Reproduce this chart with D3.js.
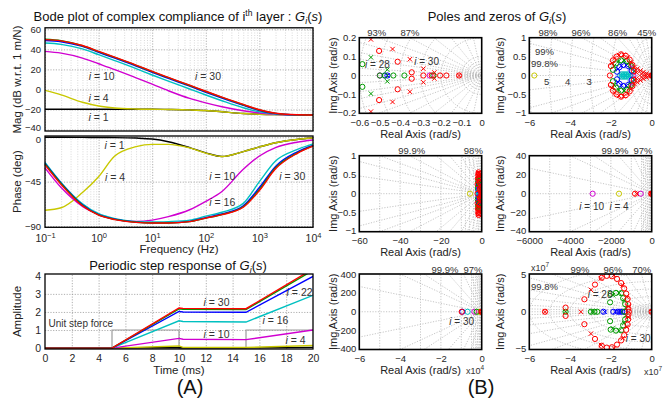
<!DOCTYPE html>
<html>
<head>
<meta charset="utf-8">
<script src="https://cdn.jsdelivr.net/npm/d3@7/dist/d3.min.js"></script>
<style>
  body { margin: 0; background: #fff; }
  svg { font-family: "Liberation Sans", Arial, Helvetica, sans-serif; }
  .tick text { fill: #262626; }
</style>
</head>
<body>
<div id="chart"></div>
<script>
// ---- layers ----
const layerIds = [1, 4, 10, 16, 22, 28, 30];
const layerColors = ["#000000", "#c8c800", "#d000d0", "#00c0c0", "#0000ff", "#009a00", "#ff0000"];

// ---- Bode (magnitude dB / phase deg) ----
const freqHz = [0.1, 0.2, 0.5, 1, 2, 5, 10, 20, 50, 100, 200, 500, 1000, 2000, 5000, 10000];
const mag1  = [-19.8, -19.8, -19.8, -19.8, -19.8, -19.8, -19.8, -20.0, -20.4, -21.0, -22.3, -24.0, -24.8, -25.2, -25.4, -25.5];
const mag4  = [-1.0, -5.5, -12.8, -16.5, -18.5, -19.5, -19.8, -20.0, -20.4, -21.0, -22.3, -24.0, -24.8, -25.2, -25.4, -25.5];
const mag10 = [38.0, 36.2, 31.3, 25.6, 19.8, 11.5, 5.2, -1.3, -9.0, -13.5, -17.3, -21.3, -23.5, -24.8, -25.4, -25.5];
const mag16 = [46.3, 45.0, 40.5, 34.7, 28.8, 20.8, 14.4, 8.3, 0.4, -5.6, -11.3, -18.3, -22.4, -24.6, -25.4, -25.5];
const mag22 = [48.8, 47.6, 42.9, 37.0, 31.2, 23.3, 17.0, 11.0, 3.2, -2.8, -8.6, -15.9, -21.0, -24.1, -25.4, -25.5];
const mag28 = [50.0, 48.6, 43.6, 37.7, 31.9, 24.0, 17.7, 11.7, 3.9, -2.1, -7.9, -15.3, -20.5, -23.9, -25.3, -25.5];
const mag30 = [49.7, 48.5, 43.8, 38.0, 32.2, 24.3, 18.0, 12.0, 4.2, -1.8, -7.6, -15.0, -20.3, -23.8, -25.3, -25.5];

const phase1  = [0, 0, -0.1, -0.2, -0.3, -0.8, -1.8, -4.5, -10.5, -15.8, -19.5, -14.5, -9.8, -5.5, -2.2, -0.8];
const phase4  = [-74, -71.5, -56, -40, -19, -9.5, -7.2, -7.2, -10.8, -16, -19.5, -14.5, -9.8, -5.5, -2.2, -0.8];
const phase10 = [-31, -51, -70, -78, -83, -85.3, -84, -80.5, -73.5, -65, -55, -32.5, -19, -10.5, -5, -2.7];
const phase16 = [-25.5, -46, -67.5, -77.5, -82.5, -85.5, -86, -85.5, -84, -80, -76, -67, -45, -24, -12.5, -6.7];
const phase22 = [-26.5, -46.5, -68.5, -78.5, -83, -86, -86.8, -86.8, -85.3, -81.5, -77.8, -69.5, -51, -29.5, -15, -8.3];
const phase28 = [-27, -47, -69, -78.8, -83.3, -86.2, -87, -87, -85.5, -82, -78.3, -70.5, -53, -31, -16, -8.7];
const phase30 = [-28, -48, -69.5, -79, -83.5, -86.3, -87, -87, -85.5, -82, -78.5, -71, -54, -32, -16.5, -9];

// ---- periodic step response ----
const stepTime = [0, 5, 10, 10.3, 15, 20];
const step1  = [0, 0, 0.03, 0.01, 0.01, 0.04];
const step4  = [0, 0, 0.12, 0.04, 0.03, 0.14];
const step10 = [0, 0, 0.54, 0.49, 0.47, 1.0];
const step16 = [0, 0, 1.51, 1.47, 1.44, 2.92];
const step22 = [0, 0, 2.03, 2.0, 1.98, 3.97];
const step28 = [0, 0, 2.17, 2.15, 2.13, 4.30];
const step30 = [0, 0, 2.22, 2.2, 2.18, 4.38];
const forceTime  = [0, 5, 5, 10, 10, 15, 15, 20];
const forceValue = [0, 0, 1, 1, 0, 0, 1, 1];

// annotations [layer, x, y] in data units
const magLabels   = [[10, 1.14, 12.7], [30, 110, 12.7], [4, 1.0, -8.9], [1, 1.0, -27.8]];
const phaseLabels = [[1, 1.98, -7.8], [4, 2.02, -40.6], [10, 203, -40.0], [16, 203, -66.3], [30, 4110, -40.0]];
const stepLabels  = [[30, 12.8, 2.51], [22, 19.0, 3.07], [16, 17.2, 1.55], [10, 12.8, 0.76], [4, 18.7, 0.45]];

// ---- poles (x) and zeros (o): [layer, kind, re, im]; im > 0 also drawn as conjugate ----
const pzSmall = [
  [30, "o", -0.503, 0.13], [30, "o", -0.412, 0.073], [30, "o", -0.343, 0.017], [30, "o", -0.286, 0],
  [30, "o", -0.245, 0], [30, "o", -0.204, 0], [30, "o", -0.173, 0], [30, "o", -0.111, 0],
  [30, "x", -0.543, 0.191], [30, "x", -0.437, 0.14], [30, "x", -0.352, 0.086], [30, "x", -0.286, 0.036],
  [30, "x", -0.232, 0.016], [30, "x", -0.111, 0],
  [28, "o", -0.585, 0.06], [28, "o", -0.499, 0], [28, "o", -0.474, 0], [28, "o", -0.433, 0],
  [28, "o", -0.379, 0], [28, "o", -0.237, 0], [28, "x", -0.543, 0.096], [28, "x", -0.463, 0.031],
  [10, "o", -0.5, 0], [10, "o", -0.255, 0],
  [22, "o", -0.475, 0], [22, "o", -0.462, 0], [22, "x", -0.462, 0]
];
const pzMid = [
  [4, "o", -5.755, 0],
  [10, "o", -0.9, 0], [10, "x", -0.93, 0],
  [16, "o", -1.55, 0], [16, "o", -1.45, 0.03], [16, "o", -1.35, 0.03], [16, "o", -1.25, 0.03],
  [16, "o", -1.15, 0.03], [16, "o", -1.05, 0], [16, "x", -1.5, 0], [16, "x", -1.3, 0], [16, "x", -1.1, 0],
  [22, "o", -1.7, 0.1], [22, "o", -1.58, 0.22], [22, "o", -1.38, 0.28], [22, "o", -1.15, 0.25], [22, "o", -0.98, 0.12],
  [22, "x", -1.65, 0.17], [22, "x", -1.48, 0.26], [22, "x", -1.25, 0.27], [22, "x", -1.05, 0.19],
  [28, "o", -1.9, 0.15], [28, "o", -1.75, 0.32], [28, "o", -1.5, 0.4], [28, "o", -1.22, 0.38], [28, "o", -1.0, 0.25],
  [28, "x", -1.85, 0.25], [28, "x", -1.62, 0.38], [28, "x", -1.35, 0.41], [28, "x", -1.1, 0.33], [28, "x", -0.85, 0.12],
  [30, "o", -2.05, 0], [30, "o", -2.0, 0.25], [30, "o", -1.9, 0.4], [30, "o", -1.72, 0.5], [30, "o", -1.5, 0.56],
  [30, "o", -1.27, 0.52], [30, "o", -1.08, 0.42], [30, "o", -0.95, 0.28], [30, "o", -0.88, 0.12],
  [30, "x", -1.95, 0.33], [30, "x", -1.82, 0.46], [30, "x", -1.6, 0.54], [30, "x", -1.38, 0.55], [30, "x", -1.17, 0.48],
  [30, "x", -1.0, 0.35], [30, "x", -0.85, 0.22], [30, "x", -0.7, 0.18], [30, "x", -0.55, 0.13], [30, "x", -0.4, 0.09],
  [30, "x", -0.25, 0.05], [30, "x", -0.12, 0.02], [30, "x", -0.75, 0.08], [30, "x", -0.5, 0.04], [30, "x", -0.3, 0.02],
  [30, "x", -0.02, 0], [30, "o", 0, 0]
];
const pzWide = [
  [10, "o", -2894, 0], [10, "o", -540, 0], [4, "o", -1602, 0],
  [30, "o", -817, 0], [30, "x", -736, 0], [30, "o", -20, 0], [30, "x", 0, 0], [30, "x", -40, 0], [30, "o", 0, 0]
];
const pzWider = [
  [30, "o", -9800, 0], [22, "o", -9500, 0], [16, "o", -6900, 0], [10, "o", -3600, 0], [28, "o", -2450, 0],
  [4, "o", -1300, 0], [30, "o", -150, 0], [30, "x", -250, 0], [30, "x", 0, 0], [30, "o", 0, 0]
];
const pzHuge = [
  [22, "o", -2.37e7, 0], [22, "o", -1.88e7, 0], [22, "o", -1.67e7, 0], [22, "o", -1.55e7, 0], [22, "o", -1.44e7, 0],
  [22, "o", -1.31e7, 0], [22, "x", -2.3e7, 0], [22, "x", -1.78e7, 0], [22, "x", -1.6e7, 0], [22, "x", -1.5e7, 0],
  [28, "o", -4.22e7, 0], [28, "o", -2.98e7, 0], [28, "o", -2.81e7, 0], [28, "o", -2.67e7, 0], [28, "o", -2.04e7, 1.25e7],
  [28, "o", -2.01e7, 2.37e7], [28, "o", -1.75e7, 2.5e7], [28, "o", -1.5e7, 2.46e7], [28, "o", -1.4e7, 1.8e7],
  [28, "o", -1.3e7, 1.0e7], [28, "o", -1.35e7, 0],
  [28, "x", -4.22e7, 0], [28, "x", -2.9e7, 0], [28, "x", -1.9e7, 2.2e7], [28, "x", -1.6e7, 2.5e7],
  [28, "x", -1.35e7, 1.5e7], [28, "x", -1.25e7, 0.5e7],
  [30, "o", -5.23e7, 0], [30, "o", -4.22e7, 0.55e7], [30, "o", -3.3e7, 1.65e7], [30, "o", -2.78e7, 3.6e7],
  [30, "o", -2.45e7, 4.5e7], [30, "o", -2.2e7, 4.75e7], [30, "o", -1.95e7, 4.7e7], [30, "o", -1.7e7, 4.35e7],
  [30, "o", -1.5e7, 3.8e7], [30, "o", -1.35e7, 3.1e7], [30, "o", -1.25e7, 2.4e7], [30, "o", -1.18e7, 1.7e7],
  [30, "o", -1.15e7, 1.0e7], [30, "o", -1.14e7, 0.4e7], [30, "o", -1.12e7, 0], [30, "o", 0, 0],
  [30, "x", -5.23e7, 0], [30, "x", -3.47e7, 0], [30, "x", -2.98e7, 2.9e7], [30, "x", -2.49e7, 4.4e7],
  [30, "x", -1.85e7, 4.85e7], [30, "x", -1.42e7, 3.5e7], [30, "x", -1.22e7, 2.0e7], [30, "x", -1.15e7, 0.7e7],
  [30, "x", 0, 0]
];

// s-grid: damping ratios and natural frequencies per plot
const zetaA = [0.998, 0.99, 0.98, 0.96, 0.93, 0.87, 0.76, 0.6, 0.4, 0.2];
const wnA   = [0.015, 0.03, 0.045, 0.06, 0.075, 0.1, 0.2, 0.3, 0.4, 0.5, 0.6];
const zetaB = [0.998, 0.99, 0.98, 0.96, 0.93, 0.86, 0.75, 0.6, 0.45, 0.25];
const wnB   = [0.25, 0.5, 0.75, 1, 2, 3, 4, 5, 6];
const zetaC = [0.99997, 0.9999, 0.9998, 0.9996, 0.999, 0.998, 0.995, 0.99, 0.98, 0.95, 0.85, 0.6];
const wnC   = [2, 4, 6, 8, 10, 20, 30, 40, 50, 60];
const zetaD = [0.99999, 0.99995, 0.9999, 0.9997, 0.999, 0.997, 0.99, 0.97, 0.9, 0.7];
const wnD   = [100, 200, 300, 400, 500, 1000, 2000, 3000, 4000, 5000, 6000];
const wnE   = [1000, 2000, 3000, 4000, 5000, 10000, 20000, 30000, 40000, 50000, 60000];
const zetaF = [0.998, 0.99, 0.96, 0.9, 0.8, 0.7, 0.55, 0.4, 0.25, 0.1];
const wnF   = [0.2e7, 0.4e7, 0.6e7, 0.8e7, 1e7, 2e7, 3e7, 4e7, 5e7, 6e7];

// grid labels: [text, re] along the top edge, [text, re, im] inside
const topA = [["93%", -0.515], ["87%", -0.352]];
const topB = [["98%", -5.08], ["96%", -3.47], ["86%", -1.67], ["45%", -0.245]];
const innerB = [["99%", -5.72, 0.62], ["99.8%", -5.92, 0.30]];
const wnLabelsB = [["5", -5.15, -0.16], ["4", -4.12, -0.16], ["3", -3.07, -0.16]];
const topC = [["99.9%", -34.3], ["98%", -4.1]];
const topD = [["99.9%", -1799], ["97%", -426]];
const topE = [["99.9%", -18000], ["97%", -4265]];
const topF = [["99%", -3.515e7], ["96%", -1.90e7], ["70%", -0.49e7]];
const innerF = [["99.8%", -5.92e7, 3.26e7]];

const pzLabelsA = [[28, -0.511, 0.059], [30, -0.27, 0.073]];
const pzLabelsD = [[10, -2941, -13.8], [4, -1600, -13.8]];
const pzLabelsE = [[30, -9800, -106]];
const pzLabelsF = [[28, -2.53e7, 2.27e7], [30, -0.66e7, -3.56e7]];

/***********************************************************************/
const svg = d3.select("#chart").append("svg")
    .attr("width", 668).attr("height", 400);
const defs = svg.append("defs");
const colorOf = d3.scaleOrdinal().domain(layerIds).range(layerColors);

const magSeries = [mag1, mag4, mag10, mag16, mag22, mag28, mag30];
const phaseSeries = [phase1, phase4, phase10, phase16, phase22, phase28, phase30];
const stepSeries = [step1, step4, step10, step16, step22, step28, step30];

// "i = n" label
function iLabel(g, x, y, n, size) {
    const t = g.append("text")
        .attr("x", x).attr("y", y).attr("dy", "0.35em")
        .attr("text-anchor", "middle")
        .style("font-size", (size || 10.5) + "px")
        .attr("fill", "#333");
    t.append("tspan").style("font-style", "italic").text("i");
    t.append("tspan").text(" = " + n);
}

// title with G_i(s)
function titleGi(x, y, parts) {
    const t = svg.append("text").attr("x", x).attr("y", y)
        .attr("text-anchor", "middle").style("font-size", "13px").attr("fill", "#111");
    parts(t);
    t.append("tspan").style("font-style", "italic").text("G");
    t.append("tspan").style("font-style", "italic").style("font-size", "9px").attr("dy", 3).text("i");
    t.append("tspan").attr("dy", -3).text("(");
    t.append("tspan").style("font-style", "italic").text("s");
    t.append("tspan").text(")");
}

function yTitle(x, y, text, size) {
    svg.append("text")
        .attr("transform", `translate(${x},${y}) rotate(-90)`)
        .attr("text-anchor", "middle")
        .attr("dy", "0.35em")
        .style("font-size", (size || 11.5) + "px")
        .attr("fill", "#222")
        .text(text);
}

function styleGrid(g, color, dash) {
    g.select(".domain").remove();
    g.selectAll(".tick line").attr("stroke", color).attr("stroke-dasharray", dash).attr("stroke-width", 0.8);
}

function frame(x0, y0, x1, y1, w) {
    svg.append("rect").attr("x", x0).attr("y", y0)
        .attr("width", x1 - x0).attr("height", y1 - y0)
        .attr("fill", "none").attr("stroke", "#000").attr("stroke-width", w || 1.3);
}

/*************************** (A) Bode ***************************/
const bx0 = 45, bx1 = 313;
const xFreq = d3.scaleLog().domain([0.1, 1e4]).range([bx0, bx1]);
const yMag = d3.scaleLinear().domain([-41.5, 61.5]).range([131, 27.8]);
const yPh = d3.scaleLinear().domain([-91.3, 1.3]).range([227.3, 136]);
const decades = [0.1, 1, 10, 100, 1000, 10000];
const minorF = xFreq.ticks().filter(d => !decades.some(p => Math.abs(d / p - 1) < 1e-6));

function bodePanel(yScale, yTicks, top, bottom, series, labels, showX, edgeDy) {
    const g = svg.append("g");
    const h = bottom - top;
    // minor grid
    const gm = g.append("g").attr("transform", `translate(0,${bottom})`)
        .call(d3.axisBottom(xFreq).tickValues(minorF).tickSize(-h).tickFormat(""));
    styleGrid(gm, "#cfcfcf", "1,1.5");
    const gM = g.append("g").attr("transform", `translate(0,${bottom})`)
        .call(d3.axisBottom(xFreq).tickValues(decades).tickSize(-h).tickFormat(""));
    styleGrid(gM, "#9a9a9a", "1.2,1.5");
    const gy = g.append("g").attr("transform", `translate(${bx0},0)`)
        .call(d3.axisLeft(yScale).tickValues(yTicks).tickSize(-(bx1 - bx0)).tickFormat(""));
    styleGrid(gy, "#9a9a9a", "1.2,1.5");

    // y tick labels
    const ya = g.append("g").attr("transform", `translate(${bx0},0)`)
        .call(d3.axisLeft(yScale).tickValues(yTicks).tickSize(0).tickPadding(4).tickFormat(d3.format("d")));
    ya.select(".domain").remove();
    ya.selectAll("text").style("font-size", "9.5px").attr("font-family", null);
    // nudge the label sitting on the shared edge between the two panels
    if (edgeDy) ya.selectAll(".tick").filter(d => d === edgeDy[0]).select("text").attr("dy", edgeDy[1]);

    if (showX) {
        const xa = g.append("g").attr("transform", `translate(0,${bottom})`)
            .call(d3.axisBottom(xFreq).tickValues(decades).tickSize(0).tickPadding(7).tickFormat(() => "10"));
        xa.select(".domain").remove();
        xa.selectAll("text").style("font-size", "10.5px").attr("font-family", null)
            .append("tspan").attr("dy", "-0.45em").style("font-size", "7.5px")
            .text(d => d3.format("d")(Math.round(Math.log10(d))));
    }

    const line = d3.line()
        .x(d => xFreq(d[0])).y(d => yScale(d[1]))
        .curve(d3.curveMonotoneX);
    series.forEach((vals, k) => {
        g.append("path")
            .datum(freqHz.map((f, j) => [f, vals[j]]))
            .attr("d", line)
            .attr("fill", "none")
            .attr("stroke", colorOf(layerIds[k]))
            .attr("stroke-width", 1.4);
    });
    labels.forEach(l => iLabel(g, xFreq(l[1]), yScale(l[2]), l[0]));
}

bodePanel(yMag, [-40, -20, 0, 20, 40, 60], 27.8, 131, magSeries, magLabels, false, [-40, "0.15em"]);
bodePanel(yPh, [-90, -45, 0], 136, 227.3, phaseSeries, phaseLabels, true, [0, "0.5em"]);
frame(bx0, 27.8, bx1, 131);
frame(bx0, 136, bx1, 227.3);

titleGi(178, 21, t => {
    t.append("tspan").text("Bode plot of complex compliance of i");
    t.append("tspan").attr("dy", -5).style("font-size", "8.5px").text("th");
    t.append("tspan").attr("dy", 5).text(" layer : ");
});
yTitle(17, 79.5, "Mag (dB w.r.t. 1 m/N)");
yTitle(17, 181.6, "Phase (deg)");
svg.append("text").attr("x", 179).attr("y", 252.5).attr("text-anchor", "middle")
    .style("font-size", "11.5px").attr("fill", "#222").text("Frequency (Hz)");

/*************************** (A) step ***************************/
const xT = d3.scaleLinear().domain([0, 20]).range([bx0, bx1]);
const yAmp = d3.scaleLinear().domain([-0.05, 4.1]).range([349, 274]);
{
    const g = svg.append("g");
    const gx = g.append("g").attr("transform", "translate(0,349)")
        .call(d3.axisBottom(xT).tickValues(d3.range(2, 20, 2)).tickSize(-75).tickFormat(""));
    styleGrid(gx, "#9a9a9a", "1.2,1.5");
    const gy = g.append("g").attr("transform", `translate(${bx0},0)`)
        .call(d3.axisLeft(yAmp).tickValues([1, 2, 3]).tickSize(-(bx1 - bx0)).tickFormat(""));
    styleGrid(gy, "#9a9a9a", "1.2,1.5");

    const xa = g.append("g").attr("transform", "translate(0,349)")
        .call(d3.axisBottom(xT).tickValues(d3.range(0, 21, 2)).tickSize(0).tickPadding(6).tickFormat(d3.format("d")));
    xa.select(".domain").remove();
    xa.selectAll("text").style("font-size", "10.5px").attr("font-family", null);
    const ya = g.append("g").attr("transform", `translate(${bx0},0)`)
        .call(d3.axisLeft(yAmp).tickValues([0, 1, 2, 3, 4]).tickSize(0).tickPadding(4).tickFormat(d3.format("d")));
    ya.select(".domain").remove();
    ya.selectAll("text").style("font-size", "10.5px").attr("font-family", null);

    defs.append("clipPath").attr("id", "clipStep")
        .append("rect").attr("x", bx0).attr("y", 274).attr("width", bx1 - bx0).attr("height", 75);
    const plot = g.append("g").attr("clip-path", "url(#clipStep)");
    const sline = d3.line().x(d => xT(d[0])).y(d => yAmp(d[1]));
    plot.append("path")
        .datum(forceTime.map((t, j) => [t, forceValue[j]]))
        .attr("d", sline).attr("fill", "none").attr("stroke", "#9c9c9c").attr("stroke-width", 1.2);
    stepSeries.forEach((vals, k) => {
        plot.append("path")
            .datum(stepTime.map((t, j) => [t, vals[j]]))
            .attr("d", sline).attr("fill", "none")
            .attr("stroke", colorOf(layerIds[k])).attr("stroke-width", 1.4);
    });
    stepLabels.forEach(l => iLabel(g, xT(l[1]), yAmp(l[2]), l[0]));
    g.append("text").attr("x", xT(2.67)).attr("y", yAmp(1.37)).attr("dy", "0.35em")
        .attr("text-anchor", "middle").style("font-size", "10px").attr("fill", "#333")
        .text("Unit step force");
}
frame(bx0, 274, bx1, 349);
titleGi(178, 269.5, t => t.append("tspan").text("Periodic step response of "));
yTitle(17, 311.5, "Amplitude");
svg.append("text").attr("x", 179).attr("y", 373.5).attr("text-anchor", "middle")
    .style("font-size", "11.5px").attr("fill", "#222").text("Time (ms)");
svg.append("text").attr("x", 190).attr("y", 394).attr("text-anchor", "middle")
    .style("font-size", "20px").attr("fill", "#111").text("(A)");

/*************************** (B) poles & zeros ***************************/
const colX = [[359.3, 481.7], [529.3, 651.7]];
const rowY = [[37.7, 113.3], [155.7, 231.7], [274, 349.5]];

function pzPlot(id, cfg) {
    const [x0, x1] = colX[cfg.col], [y0, y1] = rowY[cfg.row];
    const x = d3.scaleLinear().domain(cfg.xDom).range([x0, x1]);
    const y = d3.scaleLinear().domain(cfg.yDom).range([y1, y0]);
    const g = svg.append("g");
    defs.append("clipPath").attr("id", id)
        .append("rect").attr("x", x0).attr("y", y0).attr("width", x1 - x0).attr("height", y1 - y0);
    const plot = g.append("g").attr("clip-path", `url(#${id})`);
    const gridStyle = s => s.attr("fill", "none").attr("stroke", "#b8b8b8")
        .attr("stroke-width", 0.8).attr("stroke-dasharray", "1.2,1.5");

    // damping lines
    const xmin = -cfg.xDom[0], ymax = cfg.yDom[1];
    plot.append("line").attr("x1", x(0)).attr("y1", y(0)).attr("x2", x0).attr("y2", y(0)).call(gridStyle);
    cfg.zeta.forEach(z => {
        const s = Math.sqrt(1 - z * z);
        const t = Math.min(xmin / z, ymax / s);
        [1, -1].forEach(sg => {
            plot.append("line")
                .attr("x1", x(0)).attr("y1", y(0))
                .attr("x2", x(-t * z)).attr("y2", y(sg * t * s))
                .call(gridStyle);
        });
    });
    // natural-frequency semicircles
    const arc = d3.line().x(d => x(d[0])).y(d => y(d[1]));
    cfg.wn.forEach(r => {
        const pts = d3.range(90, 270.1, 2).map(a => [r * Math.cos(a * Math.PI / 180), r * Math.sin(a * Math.PI / 180)]);
        plot.append("path").datum(pts).attr("d", arc).call(gridStyle);
    });

    // poles / zeros, layer by layer
    const pts = [];
    cfg.pts.forEach(p => {
        pts.push(p);
        if (p[3] > 0) pts.push([p[0], p[1], p[2], -p[3]]);
    });
    pts.sort((a, b) => layerIds.indexOf(a[0]) - layerIds.indexOf(b[0]));
    pts.forEach(p => {
        const cx = x(p[2]), cy = y(p[3]), c = colorOf(p[0]);
        if (p[1] === "o") {
            plot.append("circle").attr("cx", cx).attr("cy", cy).attr("r", 2.6)
                .attr("fill", "none").attr("stroke", c).attr("stroke-width", 1);
        } else {
            plot.append("path").attr("transform", `translate(${cx},${cy})`)
                .attr("d", "M-2.2,-2.2L2.2,2.2M-2.2,2.2L2.2,-2.2")
                .attr("stroke", c).attr("stroke-width", 1);
        }
    });

    // axes
    const xa = g.append("g").attr("transform", `translate(0,${y1})`)
        .call(d3.axisBottom(x).tickValues(cfg.xTicks).tickSize(0).tickPadding(6).tickFormat(cfg.xFmt));
    xa.select(".domain").remove();
    xa.selectAll("text").style("font-size", "9.5px").attr("font-family", null);
    const ya = g.append("g").attr("transform", `translate(${x0},0)`)
        .call(d3.axisLeft(y).tickValues(cfg.yTicks).tickSize(0).tickPadding(3).tickFormat(cfg.yFmt));
    ya.select(".domain").remove();
    ya.selectAll("text").style("font-size", "9.5px").attr("font-family", null);
    // keep the lowest y label clear of the x labels
    ya.selectAll(".tick").filter(d => d === cfg.yTicks[0]).select("text").attr("dy", "0.2em");

    // grid labels
    (cfg.top || []).forEach(l => {
        g.append("text").attr("x", x(l[1])).attr("y", y0 - 1.5).attr("text-anchor", "middle")
            .style("font-size", "9.5px").attr("fill", "#333").text(l[0]);
    });
    (cfg.inner || []).forEach(l => {
        g.append("text").attr("x", x(l[1])).attr("y", y(l[2])).attr("dy", "0.35em")
            .style("font-size", "9.5px").attr("fill", "#333").text(l[0]);
    });
    (cfg.wnLab || []).forEach(l => {
        g.append("text").attr("x", x(l[1])).attr("y", y(l[2])).attr("dy", "0.35em")
            .attr("text-anchor", "middle").style("font-size", "9.5px").attr("fill", "#333").text(l[0]);
    });
    (cfg.labels || []).forEach(l => iLabel(g, x(l[1]), y(l[2]), l[0], 10));

    frame(x0, y0, x1, y1, 1.6);
    svg.append("text").attr("x", (x0 + x1) / 2).attr("y", y1 + 24.5).attr("text-anchor", "middle")
        .style("font-size", "11px").attr("fill", "#222").text("Real Axis (rad/s)");
    yTitle(cfg.col === 0 ? 333 : 500, (y0 + y1) / 2, "Img Axis (rad/s)", 11);
    return {x, y};
}

const fmt1 = d => d === 0 ? "0" : d3.format(".1f")(d);
const fmtG = d3.format("~g");

pzPlot("pzA", {col: 0, row: 0, pts: pzSmall, xDom: [-0.6, 0], yDom: [-0.2, 0.2],
    xTicks: [-0.6, -0.5, -0.4, -0.3, -0.2, -0.1, 0], yTicks: [-0.2, -0.1, 0, 0.1, 0.2],
    xFmt: fmt1, yFmt: fmt1, zeta: zetaA, wn: wnA, top: topA, labels: pzLabelsA});
pzPlot("pzB", {col: 1, row: 0, pts: pzMid, xDom: [-6, 0], yDom: [-1, 1],
    xTicks: [-6, -4, -2, 0], yTicks: [-1, -0.5, 0, 0.5, 1],
    xFmt: fmtG, yFmt: fmtG, zeta: zetaB, wn: wnB, top: topB, inner: innerB, wnLab: wnLabelsB});
pzPlot("pzC", {col: 0, row: 1, pts: pzMid, xDom: [-60, 0], yDom: [-1, 1],
    xTicks: [-60, -40, -20, 0], yTicks: [-1, -0.5, 0, 0.5, 1],
    xFmt: fmtG, yFmt: fmtG, zeta: zetaC, wn: wnC, top: topC});
pzPlot("pzD", {col: 1, row: 1, pts: pzWide, xDom: [-6000, 0], yDom: [-40, 40],
    xTicks: [-6000, -4000, -2000, 0], yTicks: [-40, -20, 0, 20, 40],
    xFmt: fmtG, yFmt: fmtG, zeta: zetaD, wn: wnD, top: topD, labels: pzLabelsD});
pzPlot("pzE", {col: 0, row: 2, pts: pzWider, xDom: [-6e4, 0], yDom: [-400, 400],
    xTicks: [-6e4, -4e4, -2e4, 0], yTicks: [-400, -200, 0, 200, 400],
    xFmt: d => fmtG(d / 1e4), yFmt: fmtG, zeta: zetaD, wn: wnE, top: topE, labels: pzLabelsE});
pzPlot("pzF", {col: 1, row: 2, pts: pzHuge, xDom: [-6e7, 0], yDom: [-5e7, 5e7],
    xTicks: [-6e7, -4e7, -2e7, 0], yTicks: [-5e7, 0, 5e7],
    xFmt: d => fmtG(d / 1e7), yFmt: d => fmtG(d / 1e7), zeta: zetaF, wn: wnF, top: topF, inner: innerF, labels: pzLabelsF});

// exponent notes
function expNote(x, y, e, anchor) {
    const t = svg.append("text").attr("x", x).attr("y", y).attr("text-anchor", anchor || "middle")
        .style("font-size", "9px").attr("fill", "#333");
    t.append("tspan").text("x10");
    t.append("tspan").attr("dy", -4).style("font-size", "6.5px").text(e);
}
expNote(475, 374, "4");
expNote(653, 374.5, "7");
expNote(540, 271, "7");

titleGi(497, 21, t => t.append("tspan").text("Poles and zeros of "));
svg.append("text").attr("x", 481).attr("y", 394).attr("text-anchor", "middle")
    .style("font-size", "20px").attr("fill", "#111").text("(B)");
</script>
</body>
</html>
